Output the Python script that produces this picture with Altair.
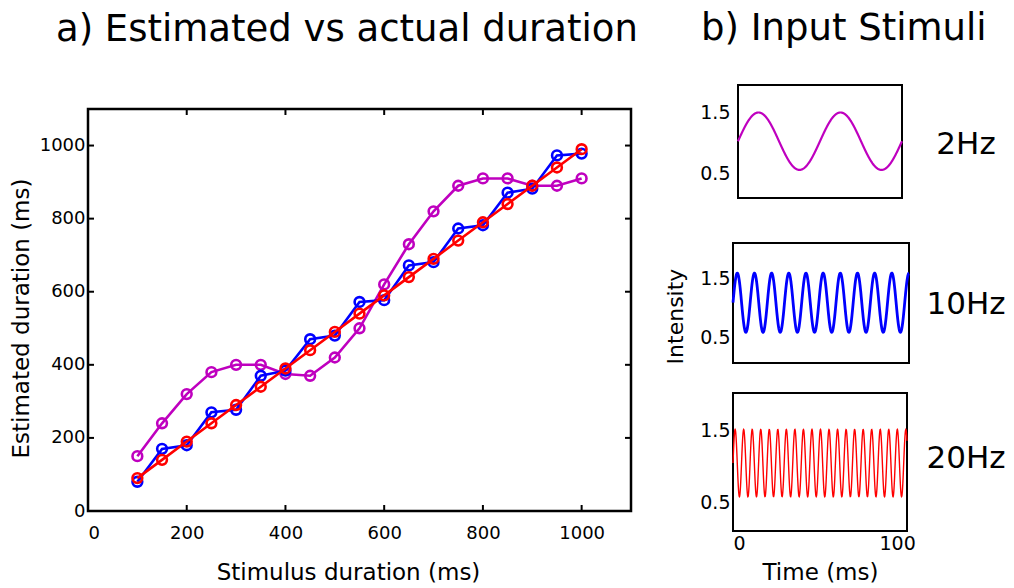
import altair as alt
import numpy as np
import pandas as pd

FONT = "DejaVu Sans"

# ---------------- data: panel a ----------------
stim_ms = [100, 150, 200, 250, 300, 350, 400, 450, 500, 550, 600, 650, 700, 750, 800, 850, 900, 950, 1000]
est_2hz = [150, 240, 320, 380, 400, 400, 375, 370, 420, 500, 620, 730, 820, 890, 910, 910, 890, 890, 910]
est_10hz = [80, 170, 180, 270, 277, 370, 384, 470, 480, 572, 577, 672, 681, 773, 782, 871, 882, 973, 978]
est_20hz = [90, 140, 190, 240, 290, 340, 390, 440, 490, 540, 590, 640, 690, 740, 790, 840, 890, 940, 990]
series_fields = ["m", "b", "r"]
series_colors = ["#BF00BF", "#0000FF", "#FF0000"]
axis_ticks_a = [0, 200, 400, 600, 800, 1000]

# ---------------- data: panel b (sinusoidal stimuli) ----------------
stim_labels = ["2Hz", "10Hz", "20Hz"]
stim_period_ms = [50, 10, 5.2]
stim_center = [1.03, 1.09, 1.05]
stim_amp = [0.47, 0.5, 0.47]
stim_t_end = [100, 102.5, 106]
stim_colors = ["#BF00BF", "#0000FF", "#FF0000"]
stim_widths = [2.2, 2.8, 1.4]
intensity_ticks = [0.5, 1.5]
time_ticks = [0, 100]

dfA = pd.DataFrame({"stim": stim_ms, "m": est_2hz, "b": est_10hz, "r": est_20hz})
dfTicks = pd.DataFrame({"tv": axis_ticks_a})
one = pd.DataFrame({"k": [0]})

# ---------------- panel a ----------------
WA, HA, TOPA = 543, 426, 24


def xA(field):
    return alt.X(f"{field}:Q",
                 scale=alt.Scale(domain=[0, 1100], nice=False, zero=False),
                 axis=alt.Axis(values=axis_ticks_a, title="Stimulus duration (ms)", format="d",
                               labelFontSize=18, titleFontSize=23, labelPadding=13,
                               titlePadding=19, titleX=260))


def yA(field):
    return alt.Y(f"{field}:Q",
                 scale=alt.Scale(domain=[0, 1100], nice=False, zero=False, range=[HA, TOPA]),
                 axis=alt.Axis(values=axis_ticks_a, title="Estimated duration (ms)", format="d",
                               labelFontSize=18, titleFontSize=23, labelPadding=3,
                               titlePadding=6, titleY=233))


layersA = []
frameA = alt.Chart(one).mark_rect(filled=False, stroke="black", strokeWidth=2.5).encode(
    x=alt.value(0), x2=alt.value(WA), y=alt.value(TOPA), y2=alt.value(HA))
layersA.append(frameA)
tick_base = alt.Chart(dfTicks).mark_rule(color="black", strokeWidth=2)
layersA.append(tick_base.encode(x=xA("tv"), y=alt.value(HA), y2=alt.value(HA - 6)))
layersA.append(tick_base.encode(x=xA("tv"), y=alt.value(TOPA), y2=alt.value(TOPA + 6)))
layersA.append(tick_base.encode(y=yA("tv"), x=alt.value(0), x2=alt.value(6)))
layersA.append(tick_base.encode(y=yA("tv"), x=alt.value(WA), x2=alt.value(WA - 6)))
for f, c in zip(series_fields, series_colors):
    layersA.append(alt.Chart(dfA).mark_line(color=c, strokeWidth=2.6).encode(x=xA("stim"), y=yA(f)))
    layersA.append(alt.Chart(dfA).mark_point(color=c, shape="circle", filled=False, size=95,
                                             strokeWidth=2.6, opacity=1).encode(x=xA("stim"), y=yA(f)))

panelA = alt.layer(*layersA).properties(
    width=WA, height=HA,
    title=alt.TitleParams(text="a) Estimated vs actual duration", fontSize=37, font=FONT,
                          fontWeight="normal", anchor="start", frame="group", dx=-32,
                          offset=7, baseline="alphabetic", color="black"))

# ---------------- panel b ----------------
specs = [
    dict(w=169, h=128, box=(5, 169, 0, 113), xr=[5, 169], yr=[113, 0], yd=[0.1, 1.95], ly=60,
         xaxis=False, ytitle=None),
    dict(w=176, h=120, box=(0, 176, 0, 120), xr=[0, 176], yr=[120, 0], yd=[0.07, 2.1], ly=62,
         xaxis=False, ytitle="Intensity"),
    dict(w=174, h=138, box=(0, 174, 0, 138), xr=[0, 174], yr=[138, 0], yd=[0.1, 2.03], ly=66,
         xaxis=True, ytitle=None),
]

panels = []
for i, s in enumerate(specs):
    t = np.linspace(0, stim_t_end[i], 900)
    v = stim_center[i] + stim_amp[i] * np.sin(2 * np.pi * t / stim_period_ms[i])
    df = pd.DataFrame({"t": t, "v": v})
    if s["xaxis"]:
        xaxis = alt.Axis(values=time_ticks, format="d", title="Time (ms)", labelFontSize=19,
                         titleFontSize=23, labelPadding=3, titlePadding=8)
    else:
        xaxis = None
    if s["ytitle"]:
        yaxis = alt.Axis(values=intensity_ticks, format=".1f", title=s["ytitle"], labelFontSize=19,
                         titleFontSize=22, labelPadding=3, titlePadding=12, titleY=73)
    else:
        yaxis = alt.Axis(values=intensity_ticks, format=".1f", title=None, labelFontSize=19,
                         labelPadding=3)
    x = alt.X("t:Q", scale=alt.Scale(domain=[0, stim_t_end[i]], range=s["xr"], nice=False, zero=False),
              axis=xaxis)
    y = alt.Y("v:Q", scale=alt.Scale(domain=s["yd"], range=s["yr"], nice=False, zero=False),
              axis=yaxis)
    x0, x1, y0, y1 = s["box"]
    frame = alt.Chart(one).mark_rect(filled=False, stroke="black", strokeWidth=2).encode(
        x=alt.value(x0), x2=alt.value(x1), y=alt.value(y0), y2=alt.value(y1))
    line = alt.Chart(df).mark_line(color=stim_colors[i], strokeWidth=stim_widths[i]).encode(x=x, y=y)
    lab = alt.Chart(pd.DataFrame({"label": [stim_labels[i]]})).mark_text(
        fontSize=31, font=FONT, align="center", baseline="middle", color="black").encode(
        x=alt.value(233), y=alt.value(s["ly"]), text="label:N")
    panels.append(alt.layer(frame, line, lab).properties(width=s["w"], height=s["h"]))

panelB = alt.vconcat(*panels, spacing=30, bounds="flush").properties(
    title=alt.TitleParams(text="b) Input Stimuli", fontSize=37, font=FONT, fontWeight="normal",
                          anchor="start", frame="group", dx=-32, offset=7,
                          baseline="alphabetic", color="black"))

chart = alt.hconcat(panelA, panelB, spacing=102, bounds="flush").properties(
    padding={"left": 10, "top": 10, "right": 5, "bottom": 2},
    background="white",
).configure(font=FONT).configure_view(stroke="transparent", strokeWidth=0).configure_axis(
    labelFont=FONT, titleFont=FONT, labelColor="black", titleColor="black", grid=False,
    domain=False, ticks=False, tickSize=0, titleFontWeight="normal")

chart.save("out.html", embed_options={"renderer": "svg", "actions": False})
